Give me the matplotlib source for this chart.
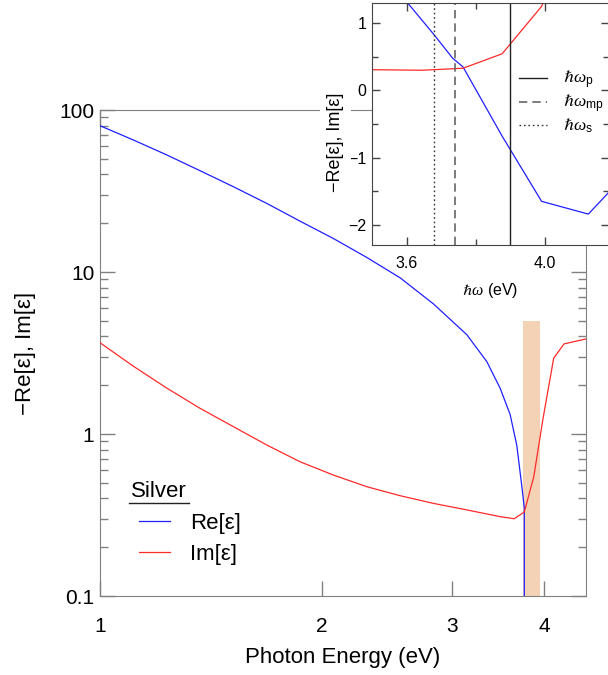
import matplotlib
matplotlib.use('Agg')
import matplotlib.pyplot as plt
import numpy as np
from matplotlib.lines import Line2D
from matplotlib.ticker import (LogLocator, NullFormatter, NullLocator,
                               MultipleLocator, FormatStrFormatter)

plt.rcParams['font.family'] = ['Liberation Sans', 'DejaVu Sans']
plt.rcParams['mathtext.fontset'] = 'custom'
plt.rcParams['mathtext.rm'] = 'Liberation Sans'
plt.rcParams['mathtext.it'] = 'Liberation Serif:italic'

# silver permittivity vs photon energy (eV)
energy_re = np.array([1.00, 1.11, 1.232, 1.367, 1.517, 1.684, 1.868, 2.073, 2.301,
                      2.554, 2.834, 3.145, 3.347, 3.489, 3.60, 3.676, 3.733, 3.763,
                      3.876, 3.99, 4.125, 4.26])
neg_re_eps = np.array([80.0, 65.3, 52.8, 42.2, 33.6, 26.5, 20.6, 16.1, 12.3,
                       9.2, 6.35, 4.1, 2.8, 1.92, 1.32, 0.85, 0.48, 0.35,
                       -0.68, -1.65, -1.84, -1.10])

energy_im = np.array([1.00, 1.11, 1.232, 1.367, 1.517, 1.684, 1.868, 2.073, 2.301,
                      2.554, 2.834, 3.145, 3.489, 3.645, 3.763, 3.876, 3.99, 4.125,
                      4.26, 4.56])
im_eps = np.array([3.66, 2.62, 1.92, 1.44, 1.11, 0.855, 0.674, 0.558, 0.473,
                   0.416, 0.373, 0.34, 0.309, 0.30, 0.33, 0.545, 1.25, 2.94,
                   3.60, 3.86])

# resonance energies (eV)
e_p = 3.90
e_mp = 3.74
e_s = 3.68

# highlighted band
band_lo, band_hi, band_top = 3.75, 3.95, 5.0

blue = '#2020ff'
red = '#ff2a2a'
gray = '#808080'

fig = plt.figure(figsize=(6.08, 6.75), dpi=100)

# main log-log panel
ax = fig.add_axes([0.1645, 0.117, 0.799, 0.72])
ax.set_xscale('log')
ax.set_yscale('log')
ax.fill_between([band_lo, band_hi], 0.05, band_top, color='#f3d2b6', lw=0, zorder=1)
ax.plot(energy_re, neg_re_eps, color=blue, lw=0.9, label='Re[ε]', zorder=3)
ax.plot(energy_im, im_eps, color=red, lw=0.9, label='Im[ε]', zorder=3)

ax.set_xlim(1, 4.56)
ax.set_ylim(0.1, 100)
ax.set_xticks([1, 2, 3, 4])
ax.set_xticklabels(['1', '2', '3', '4'])
ax.xaxis.set_minor_locator(NullLocator())
ax.set_yticks([0.1, 1, 10, 100])
ax.set_yticklabels(['0.1', '1', '10', '100'])
ax.yaxis.set_minor_locator(LogLocator(subs=np.arange(2, 10)))
ax.yaxis.set_minor_formatter(NullFormatter())
ax.tick_params(which='both', direction='in', top=True, right=True, color=gray, width=1)
ax.tick_params(which='major', length=11, labelsize=15)
ax.tick_params(which='minor', length=6)
ax.tick_params(axis='x', pad=15)
ax.tick_params(axis='y', pad=4)
for s in ax.spines.values():
    s.set_color(gray)
ax.set_xlabel('Photon Energy (eV)', fontsize=16, labelpad=8)
ax.set_ylabel('−Re[ε], Im[ε]', fontsize=16, labelpad=17)

# legend with an underlined heading
title = ax.text(0.064, 0.216, 'Silver', transform=ax.transAxes, fontsize=16,
                ha='left', va='center')
ax.legend(loc='center left', bbox_to_anchor=(0.057, 0.1183), frameon=False,
          fontsize=16, handlelength=1.4, handletextpad=0.9, labelspacing=0.45,
          borderpad=0)

# inset: linear view around the plasma resonance
axi = fig.add_axes([0.6118, 0.637, 0.39, 0.3585], zorder=2)
axi.plot(energy_re, neg_re_eps, color=blue, lw=0.9)
axi.plot(energy_im, im_eps, color=red, lw=0.9)
axi.axvline(e_p, color='#222222', lw=1, label=r'$\hslash\omega_\mathrm{p}$')
axi.axvline(e_mp, color='#666666', lw=1.2, ls=(0, (5, 3)), label=r'$\hslash\omega_\mathrm{mp}$')
axi.axvline(e_s, color='#333333', lw=1, ls=(0, (1.2, 2)), label=r'$\hslash\omega_\mathrm{s}$')
axi.set_xlim(3.5, 4.185)
axi.set_ylim(-2.3, 1.3)
axi.xaxis.set_major_locator(MultipleLocator(0.4))
axi.xaxis.set_minor_locator(MultipleLocator(0.2))
axi.xaxis.set_major_formatter(FormatStrFormatter('%.1f'))
axi.yaxis.set_major_locator(MultipleLocator(1))
axi.yaxis.set_minor_locator(MultipleLocator(0.5))
axi.tick_params(which='both', direction='in', top=True, right=True, color='#444444', width=1)
axi.tick_params(which='major', length=6, labelsize=11.5)
axi.tick_params(which='minor', length=4)
axi.tick_params(axis='x', pad=8)
axi.tick_params(axis='y', pad=4)
for s in axi.spines.values():
    s.set_color('#444444')
axi.set_xlabel(r'$\hslash\omega$ (eV)', fontsize=11.5, labelpad=7)
axi.set_ylabel('−Re[ε], Im[ε]', fontsize=13,
               bbox=dict(facecolor='white', edgecolor='none', pad=5))
axi.yaxis.set_label_coords(-0.118, 0.426)
axi.legend(loc='center left', bbox_to_anchor=(0.555, 0.59), frameon=False, fontsize=12.5,
           handlelength=1.6, handletextpad=0.9, labelspacing=0.1)

# underline the legend heading
fig.canvas.draw()
tb = title.get_window_extent().transformed(fig.transFigure.inverted())
fig.add_artist(Line2D([tb.x0 - 0.003, tb.x1 + 0.003], [tb.y0 - 0.002, tb.y0 - 0.002],
                      color='#222222', lw=1, transform=fig.transFigure))

fig.savefig('out.png', dpi=100)
